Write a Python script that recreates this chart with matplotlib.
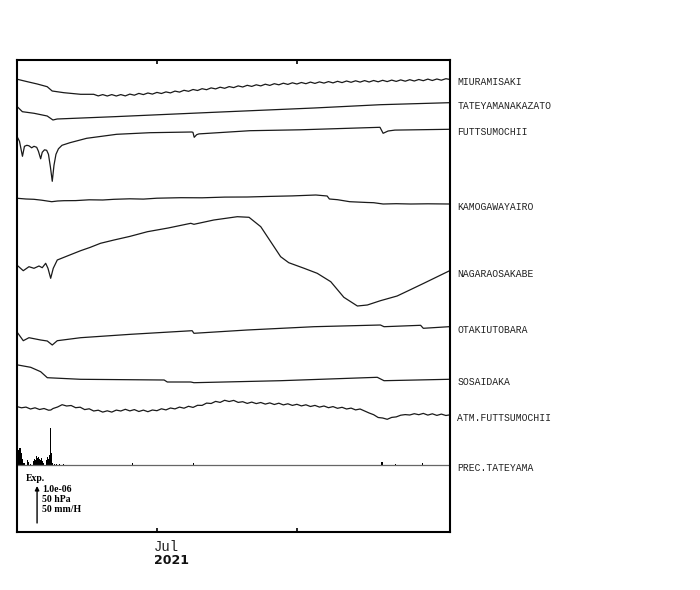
import matplotlib

matplotlib.use("Agg")
from datetime import datetime

import matplotlib.dates as mdates
import matplotlib.pyplot as plt
import matplotlib.transforms as mtransforms
import numpy as np

# Trace values in plot units, relative to each trace's last sample.
# The "Exp." arrow is ARROW units long = 1.0e-06 strain / 50 hPa / 50 mm/H.
START = datetime(2021, 6, 1)
ARROW = 37

STATIONS = [
    "MIURAMISAKI", "TATEYAMANAKAZATO", "FUTTSUMOCHII", "KAMOGAWAYAIRO",
    "NAGARAOSAKABE", "OTAKIUTOBARA", "SOSAIDAKA", "ATM.FUTTSUMOCHII", "PREC.TATEYAMA",
]

MIURA_DAYS = [-0.9, 1.3, 3.5, 5.7, 6.8, 9.4, 13.1] + list(range(16, 95)) + [94.7]
MIURA_VALS = [0, -2.4, -4.7, -7.4, -11.7, -13.4, -15.0,
              -15.0, -16.6, -15.3, -16.7, -15.3, -16.7, -15.3, -16.6, -14.8, -15.9,
              -14.1, -15.3, -13.7, -14.8, -13.1, -14.2, -12.6, -13.6, -11.8, -12.8,
              -11.0, -12.0, -10.2, -11.2, -9.4, -10.4, -8.6, -9.6, -7.9, -9.0,
              -7.3, -8.3, -6.6, -7.7, -6.0, -7.1, -5.5, -6.6, -4.9, -6.1,
              -4.4, -5.5, -3.9, -5.1, -3.5, -4.7, -3.2, -4.4, -2.8, -4.1,
              -2.6, -3.8, -2.3, -3.6, -2.0, -3.3, -1.7, -3.0, -1.5, -2.8,
              -1.3, -2.7, -1.2, -2.5, -1.0, -2.3, -0.8, -2.1, -0.6, -1.9,
              -0.4, -1.7, -0.2, -1.4, 0.2, -1.2, 0.3, -0.9, 0.6,
              0]

TATE_DAYS = [-0.8, 0.2, 2.8, 5.7, 6.97, 7.9, 20.5, 42.6, 64.8, 79.5, 94.7]
TATE_VALS = [-4.6, -9.0, -10.6, -13.3, -17.3, -16.3, -14.0, -9.6, -5.3, -2.0, 0]

FUTT_DAYS = [-0.93, -0.44, 0.22, 0.66, 1.2, 1.66, 2.26, 2.77, 3.37, 3.76, 4.25, 4.6,
             5.1, 5.58, 5.98, 6.42, 6.82, 7.2, 7.64, 8.19, 8.97, 10.74, 14.44, 21.08,
             28.45, 37.69, 37.98, 38.26, 38.8, 39.3, 50.6, 61.7, 79.4, 80.1, 81.2,
             82.7, 94.7]
FUTT_VALS = [-7.7, -12.0, -27.0, -17.0, -16.0, -16.5, -18.5, -17.0, -18.0, -22.0,
             -29.5, -23.0, -20.5, -21.0, -25.0, -38.0, -52.0, -36.0, -25.0, -19.5,
             -16.0, -13.4, -9.0, -5.0, -3.4, -2.7, -3.0, -8.0, -5.4, -4.6, -1.4,
             -0.5, 2.0, -4.0, -1.7, -0.8, 0]

KAMO_DAYS = [-0.9, 1, 2.75, 4.5, 6.7, 8, 9.4, 12, 15, 18, 20.5, 24, 27, 30, 35.3, 40,
             45, 50, 55, 60, 65.2, 67.7, 68.2, 70, 72.7, 76.6, 78, 80.1, 83, 86.2, 90,
             94.7]
KAMO_VALS = [5.7, 5.0, 4.7, 3.8, 2.3, 3.0, 3.3, 3.4, 4.2, 4.0, 4.7, 5.2, 4.9, 5.8,
             6.3, 6.2, 6.9, 7.0, 7.6, 8.1, 9.0, 8.0, 5.0, 4.3, 2.3, 1.5, 1.3, 0.0,
             0.3, 0.0, 0.2, 0]

NAGA_DAYS = [-0.78, 0.4, 1.66, 2.77, 3.88, 4.6, 5.36, 5.87, 6.47, 7.04, 7.93, 10.14,
             13.1, 15.2, 17.5, 20.5, 24.0, 27.9, 32.5, 37.5, 38.2, 42.6, 47.8, 50.4,
             53.0, 55.2, 57.4, 59.2, 62.6, 65.5, 68.5, 71.4, 74.4, 76.6, 79.5, 83.2,
             86.0, 89.1, 94.7]
NAGA_VALS = [5.0, 0.3, 4.3, 2.7, 5.0, 3.3, 7.7, 2.7, -7.3, 2.7, 11.0, 15.0, 20.3,
             23.6, 27.7, 31.0, 34.6, 39.3, 43.0, 47.7, 46.7, 51.0, 54.3, 53.7, 44.3,
             29.3, 14.3, 8.3, 2.7, -2.3, -10.7, -26.3, -35.0, -34.0, -29.7, -25.0,
             -19.0, -12.3, 0]

OTAK_DAYS = [-0.78, 0.4, 1.66, 4.25, 5.72, 6.82, 7.93, 13.1, 24.2, 37.8, 38.2, 50.0,
             64.8, 79.5, 80.3, 88.4, 89.0, 94.7]
OTAK_VALS = [-6.6, -14.0, -11.0, -13.3, -14.3, -18.3, -14.0, -11.0, -7.6, -4.0, -6.6,
             -3.3, 0.0, 1.7, 0.0, 1.4, -1.6, 0]

SOSA_DAYS = [-0.78, 2.04, 4.25, 5.72, 13.1, 31.6, 32.3, 37.5, 38.2, 57.4, 78.8, 80.3, 94.7]
SOSA_VALS = [14.3, 12.0, 7.6, 1.6, 0.0, -0.7, -2.7, -2.7, -3.4, -1.4, 2.0, -1.4, 0]

ATM_DAYS = [-0.9, 0, 1, 2, 3, 4, 5, 6, 6.5] + list(range(7, 95)) + [94.7]
ATM_VALS = [8.3, 7.2, 7.9, 6.0, 7.2, 5.5, 6.5, 4.8, 5.0,
            6.5, 8.0, 10.3, 9.0, 9.5, 7.3, 7.8, 5.4, 6.2, 4.0, 4.8, 2.9, 4.2, 2.9,
            4.9, 4.0, 5.7, 4.1, 5.4, 3.5, 4.9, 3.3, 5.0, 4.3, 6.2, 5.1, 7.0, 6.1,
            7.9, 6.8, 8.7, 7.6, 9.7, 9.6, 11.9, 11.5, 13.6, 12.6, 14.7, 13.5, 14.6,
            12.6, 13.3, 11.6, 12.9, 11.4, 12.5, 10.9, 12.1, 10.5, 11.8, 10.1, 11.2,
            9.6, 10.7, 9.1, 10.2, 8.5, 9.6, 7.9, 9.0, 7.3, 8.4, 6.7, 7.7, 6.0, 6.9,
            5.1, 6.0, 4.0, 2.0, 0.3, -2.5, -3.0, -4.3, -2.4, -1.9, -0.2, 0.4, 0.0,
            1.3, 0.3, 1.6, -0.1, 1.2, -0.4, 0.9, -0.5,
            0]

PREC_DAYS = [-0.89, -0.78, -0.66, -0.55, -0.44, -0.33, -0.22, -0.11, 0, 0.11, 0.22,
             0.33, 0.44, 0.66, 1.28, 1.4, 1.5, 1.99, 2.66, 2.88, 3.1, 3.32, 3.43,
             3.54, 3.76, 3.99, 4.21, 4.43, 4.65, 4.87, 5.54, 5.65, 5.76, 5.87, 5.98,
             6.2, 6.31, 6.47, 6.58, 6.69, 6.86, 7.42, 7.86, 8.53, 9.4, 24.7, 38.0,
             79.8, 79.9, 82.9, 88.9]
PREC_VALS = [6, 10, 13, 15, 17, 16, 13, 17, 12, 9, 6, 4, 2, 2, 4, 5, 3, 1, 4, 6, 5,
             8, 9, 7, 8, 6, 5, 7, 4, 2, 3, 5, 6, 8, 6, 10, 8, 37, 12, 5, 2, 1, 1, 1,
             1, 2, 2.5, 3.5, 3, 1.5, 2.5]

# vertical position (plot units) of each trace's last sample
OFFSETS = [452.7, 429.3, 402.7, 328.0, 261.0, 205.3, 152.7, 117.0, 67.0]

TRACES = [
    (MIURA_DAYS, MIURA_VALS), (TATE_DAYS, TATE_VALS), (FUTT_DAYS, FUTT_VALS),
    (KAMO_DAYS, KAMO_VALS), (NAGA_DAYS, NAGA_VALS), (OTAK_DAYS, OTAK_VALS),
    (SOSA_DAYS, SOSA_VALS), (ATM_DAYS, ATM_VALS),
]

MONO = ["Liberation Mono", "DejaVu Sans Mono"]
SERIF = ["Liberation Serif", "DejaVu Serif"]


def to_dates(days):
    return mdates.date2num(START) + np.asarray(days, dtype=float)


fig = plt.figure(figsize=(7, 5.9), dpi=100, facecolor="white")
ax = fig.add_axes([16.5 / 700, 58 / 590, 433 / 700, 472 / 590])

for (days, vals), off in zip(TRACES, OFFSETS[:-1]):
    ax.plot(to_dates(days), off + np.asarray(vals), color="#1a1a1a", lw=0.9)

# precipitation: zero line and hourly bars
prec_off = OFFSETS[-1]
ax.axhline(prec_off, color="#666666", lw=0.9)
ax.bar(to_dates(PREC_DAYS), PREC_VALS, width=0.22, bottom=prec_off,
       color="black", linewidth=0)

x0 = mdates.date2num(START)
ax.set_xlim(x0 - 1.1, x0 + 94.8)
ax.set_ylim(0, 472)
ax.set_yticks([])

jul = mdates.date2num(datetime(2021, 7, 1))
aug = mdates.date2num(datetime(2021, 8, 1))
ax.set_xticks([jul, aug])
ax.tick_params(axis="x", direction="in", length=3, width=1.2, top=True, bottom=True,
               labelbottom=False)
for spine in ax.spines.values():
    spine.set_linewidth(1.5)
    spine.set_color("black")

# station names at the right end of each trace
label_tr = mtransforms.blended_transform_factory(ax.transAxes, ax.transData)
for name, off in zip(STATIONS, OFFSETS):
    ax.text(1.018, off - 3, name, transform=label_tr, ha="left", va="center",
            fontsize=7, family=MONO, color="#222222")

# date labels
date_tr = mtransforms.blended_transform_factory(ax.transData, ax.transAxes)
date_tr = mtransforms.offset_copy(date_tr, fig=fig, x=-3, y=0, units="dots")
ax.text(jul, -0.016, "Jul", transform=date_tr, ha="left", va="top",
        fontsize=10, family=MONO, color="#222222")
ax.text(jul, -0.047, "2021", transform=date_tr, ha="left", va="top",
        fontsize=9, weight="bold", family="DejaVu Sans", color="#111111")

# scale legend
ax.text(0.022, 51, "Exp.", transform=label_tr, ha="left", va="baseline",
        fontsize=7, weight="bold", family=SERIF)
ax.annotate("", xy=(0.0475, 9 + ARROW), xytext=(0.0475, 9),
            xycoords=label_tr, textcoords=label_tr,
            arrowprops=dict(arrowstyle="-|>", color="black", lw=1.0,
                            mutation_scale=6, shrinkA=0, shrinkB=0))
for text, y in zip(["1.0e-06", "50 hPa", "50 mm/H"], [40.3, 29.5, 19.7]):
    ax.text(0.06, y, text, transform=label_tr, ha="left", va="baseline",
            fontsize=7, weight="bold", family=SERIF)

fig.savefig("out.png", dpi=100, facecolor="white")
plt.close(fig)
